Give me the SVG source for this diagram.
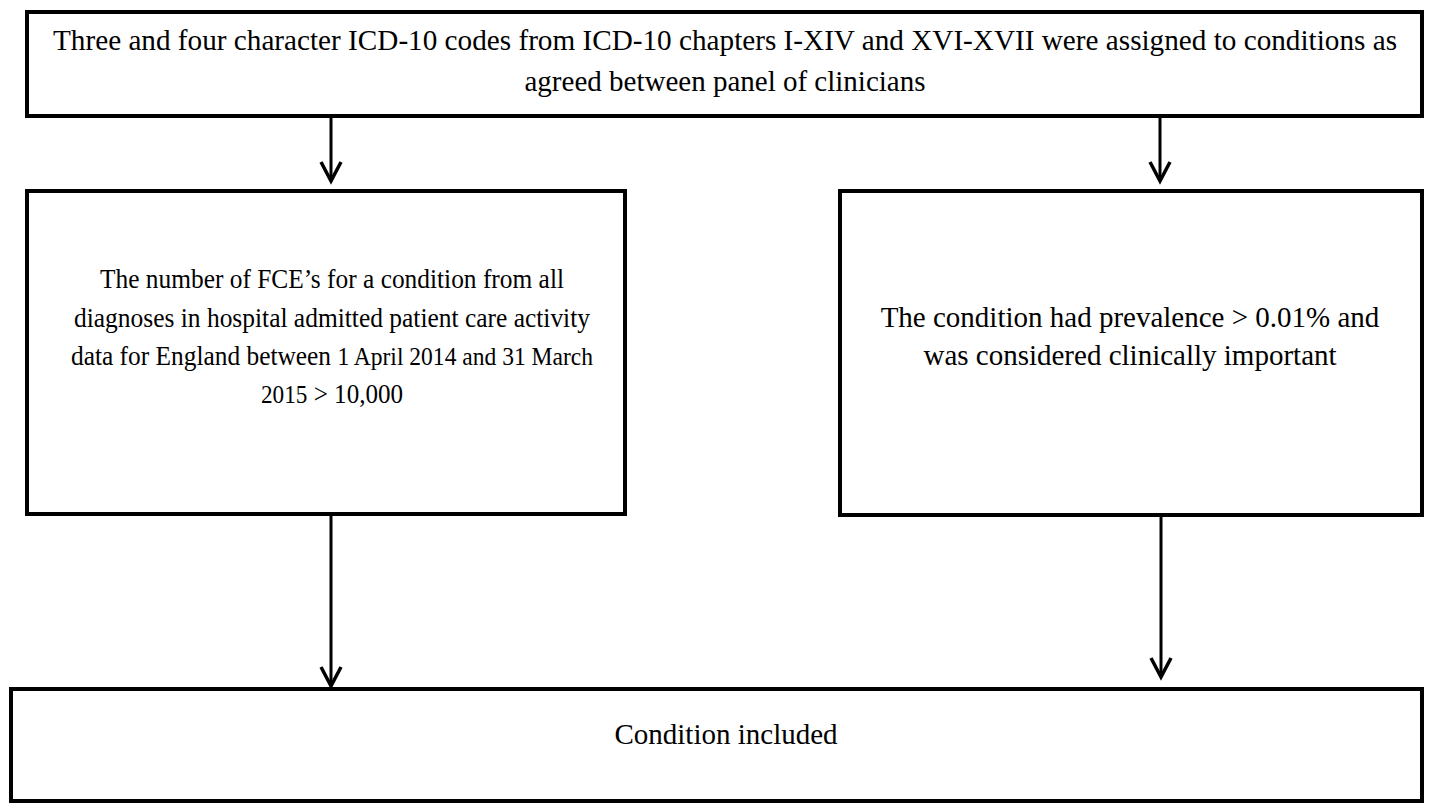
<svg xmlns="http://www.w3.org/2000/svg" width="1429" height="804" viewBox="0 0 1429 804">
<style>
.box{fill:#fff;stroke:#000;stroke-width:4}
.t{font-family:"Liberation Serif","Times New Roman",serif;font-size:29px;fill:#000;text-anchor:middle}
.l{font-size:27.5px}
.sm{font-size:25.5px}
.c{stroke:#000;stroke-width:3;fill:none;marker-end:url(#ah)}
</style>
<defs>
<marker id="ah" markerUnits="userSpaceOnUse" orient="auto" refX="0" refY="0" overflow="visible" markerWidth="20" markerHeight="20">
<path d="M-19,-10 L0,0 L-19,10" fill="none" stroke="#000" stroke-width="3.5"/>
</marker>
</defs>
<rect width="1429" height="804" fill="#fff"/>
<g id="connectors">
<line class="c" x1="331" y1="116" x2="331" y2="181"/>
<line class="c" x1="1160" y1="116" x2="1160" y2="181"/>
<line class="c" x1="331" y1="514" x2="331" y2="686"/>
<line class="c" x1="1161" y1="515" x2="1161" y2="677"/>
</g>
<g id="top">
<rect class="box" x="27" y="12" width="1395" height="104"/>
<text class="t" x="725" y="50" textLength="1344" lengthAdjust="spacingAndGlyphs">Three and four character ICD-10 codes from ICD-10 chapters I-XIV and XVI-XVII were assigned to conditions as</text>
<text class="t" x="725" y="91">agreed between panel of clinicians</text>
</g>
<g id="fce">
<rect class="box" x="27" y="191" width="598" height="323"/>
<text class="t l" x="332" y="288" textLength="464" lengthAdjust="spacingAndGlyphs">The number of FCE’s for a condition from all</text>
<text class="t l" x="332" y="327" textLength="516" lengthAdjust="spacingAndGlyphs">diagnoses in hospital admitted patient care activity</text>
<text class="t l" x="332" y="365" textLength="522" lengthAdjust="spacingAndGlyphs">data for England between <tspan class="sm">1 April 2014 and 31 March</tspan></text>
<text class="t l" x="332" y="403" textLength="142" lengthAdjust="spacingAndGlyphs"><tspan class="sm">2015</tspan> &gt; 10,000</text>
</g>
<g id="prev">
<rect class="box" x="840" y="191" width="582" height="324"/>
<text class="t" x="1130" y="327" font-size="28.5">The condition had prevalence &gt; 0.01% and</text>
<text class="t" x="1130" y="365" font-size="28.5">was considered clinically important</text>
</g>
<g id="included">
<rect class="box" x="11" y="689" width="1411" height="112"/>
<text class="t" x="726" y="744">Condition included</text>
</g>
</svg>
